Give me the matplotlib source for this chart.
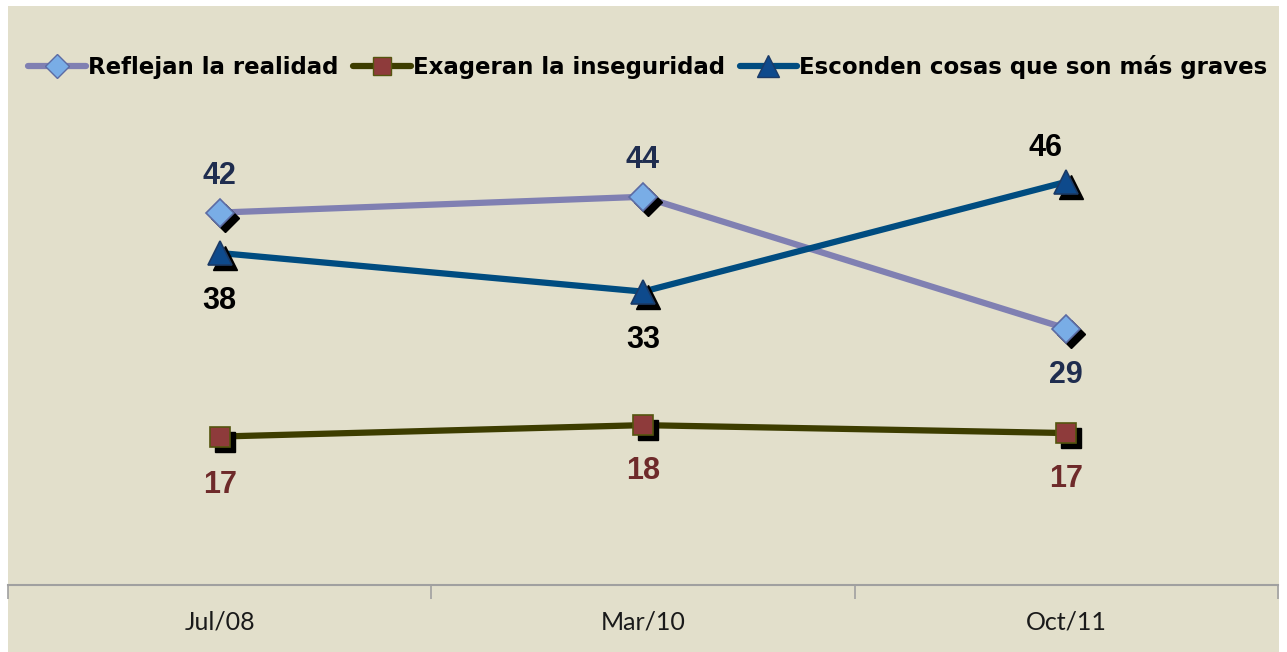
import matplotlib.pyplot as plt
import matplotlib.transforms as mtransforms
from matplotlib.patches import Rectangle

fechas = ["Jul/08", "Mar/10", "Oct/11"]
reflejan = [42.4, 44.2, 29.2]
exageran = [16.9, 18.2, 17.3]
esconden = [37.8, 33.4, 45.9]

nombres = ["Reflejan la realidad", "Exageran la inseguridad", "Esconden cosas que son más graves"]

fondo = "#E2DFCB"

fig = plt.figure(figsize=(12.87, 6.52), dpi=100, facecolor="white")
fig.patches.append(Rectangle((8 / 1287, 0), (1279 - 8) / 1287, 1 - 6 / 652,
                             transform=fig.transFigure, facecolor=fondo,
                             edgecolor="none", zorder=-10))
ax = fig.add_axes([8 / 1287, (652 - 585) / 652, 1270 / 1287, (585 - 58) / 652])
ax.set_facecolor("none")

x = list(range(len(fechas)))
sombra = mtransforms.offset_copy(ax.transData, fig=fig, x=5, y=-5, units="dots")

series = [
    (reflejan, "#8080B2", "D", 14, "#79ADE6", "#5C6BA3"),
    (exageran, "#3D3D00", "s", 14.5, "#8E3B3B", "#55550F"),
    (esconden, "#004C80", "^", 17.5, "#0E4A8C", "#1B3A66"),
]

handles = []
for (vals, lc, mk, ms, fc, ec), nom in zip(series, nombres):
    ax.plot(x, vals, color=lc, lw=4.5, zorder=2, solid_capstyle="round")
    ax.plot(x, vals, ls="none", marker=mk, ms=ms, color="black", transform=sombra, zorder=3)
    ax.plot(x, vals, ls="none", marker=mk, ms=ms, mfc=fc, mec=ec, mew=1.2, zorder=4)
    h, = ax.plot([], [], color=lc, lw=4.5, marker=mk, ms=ms * 0.9, mfc=fc, mec=ec,
                 solid_capstyle="round", label=nom)
    handles.append(h)

# posiciones de las etiquetas (pixeles)
desp = {
    0: [(0, 37), (0, 37), (0, -46)],
    1: [(0, -48), (0, -46), (0, -46)],
    2: [(0, -48), (0, -48), (-21, 34)],
}
colores_txt = ["#1F2D4F", "#6E2A2A", "#000000"]
for i, (vals, *_rest) in enumerate(series):
    for j, v in enumerate(vals):
        ax.annotate("%.0f" % v, (j, v), xytext=desp[i][j], textcoords="offset pixels",
                    ha="center", va="center", fontsize=22, fontweight="bold",
                    family="Liberation Sans", color=colores_txt[i], zorder=5)

ax.set_xlim(-0.5, 2.5)
ax.set_ylim(0, 60)
ax.set_yticks([])
ax.set_xticks([-0.5, 0.5, 1.5, 2.5])
ax.set_xticklabels([])
ax.set_xticks(x, minor=True)
ax.set_xticklabels(fechas, minor=True, fontsize=18, family="Lato", color="#1a1a1a")
ax.tick_params(axis="x", which="major", length=10, width=1.2, color="#A0A0A0", direction="out")
ax.tick_params(axis="x", which="minor", length=0, pad=18)
for s in ["top", "left", "right"]:
    ax.spines[s].set_visible(False)
ax.spines["bottom"].set_color("#A0A0A0")
ax.spines["bottom"].set_linewidth(1.5)

fig.legend(handles=handles, loc="center", bbox_to_anchor=(648 / 1287, 1 - 67 / 652),
           ncol=3, frameon=False, handlelength=2.5, handletextpad=0.1, columnspacing=0.65,
           prop={"family": "DejaVu Sans", "weight": "bold", "size": 16.5})

fig.savefig("out.png", dpi=100, facecolor="white")
